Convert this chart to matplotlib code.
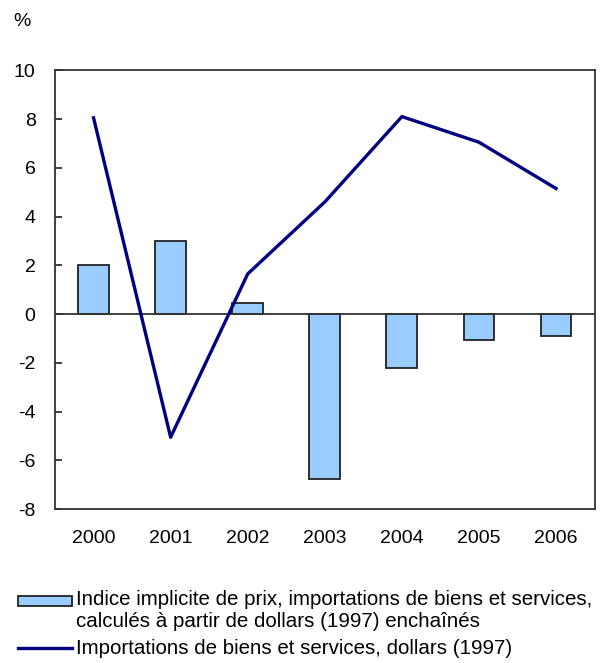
import matplotlib
matplotlib.use('Agg')
import matplotlib.pyplot as plt
import numpy as np
from matplotlib.patches import Rectangle
from matplotlib.lines import Line2D

plt.rcParams['font.family'] = ['Liberation Sans', 'DejaVu Sans']

years = ['2000', '2001', '2002', '2003', '2004', '2005', '2006']
price_index = [2.0, 3.0, 0.45, -6.75, -2.2, -1.05, -0.9]
imports_1997 = [8.05, -5.05, 1.65, 4.6, 8.1, 7.05, 5.15]
yticks = [-8, -6, -4, -2, 0, 2, 4, 6, 8, 10]

bar_label = 'Indice implicite de prix, importations de biens et services,\ncalculés à partir de dollars (1997) enchaînés'
line_label = 'Importations de biens et services, dollars (1997)'

fig = plt.figure(figsize=(6.07, 6.63), dpi=100)
ax = fig.add_axes([0.0906, 0.232, 0.889, 0.662])

x = np.arange(len(years))
ax.bar(x, price_index, width=0.4, color='#99ccff', edgecolor='#222222', linewidth=1.3, zorder=2)
ax.axhline(0, color='#333333', linewidth=1.3, zorder=3)
ax.plot(x, imports_1997, color='#000080', linewidth=2.4, zorder=4)

ax.set_xlim(-0.5, len(years) - 0.5)
ax.set_ylim(-8, 10)
ax.set_yticks(yticks)
ax.set_yticklabels([str(t) for t in yticks], fontsize=14)
ax.set_xticks(x)
ax.set_xticklabels(years, fontsize=14)
ax.tick_params(axis='x', length=0, pad=15)
ax.tick_params(axis='y', direction='in', length=5, width=1.3, color='#333333', pad=14)
for s in ax.spines.values():
    s.set_color('#333333')
    s.set_linewidth(1.3)

fig.text(22 / 607, 1 - 22 / 663, '%', fontsize=14, ha='center', va='center')

# legend drawn by hand below the plot
fig.add_artist(Rectangle((18 / 607, 1 - 606 / 663), 54 / 607, 10 / 663,
                         facecolor='#99ccff', edgecolor='#222222', linewidth=1.3,
                         transform=fig.transFigure))
fig.text(76 / 607, 1 - 590 / 663, bar_label, fontsize=14.8, ha='left', va='top',
         linespacing=1.2)
fig.add_artist(Line2D([18 / 607, 72 / 607], [1 - 648 / 663, 1 - 648 / 663],
                      color='#000080', linewidth=2.4, transform=fig.transFigure))
fig.text(76 / 607, 1 - 648 / 663, line_label, fontsize=14.8, ha='left', va='center')

fig.savefig('out.png', dpi=100)
